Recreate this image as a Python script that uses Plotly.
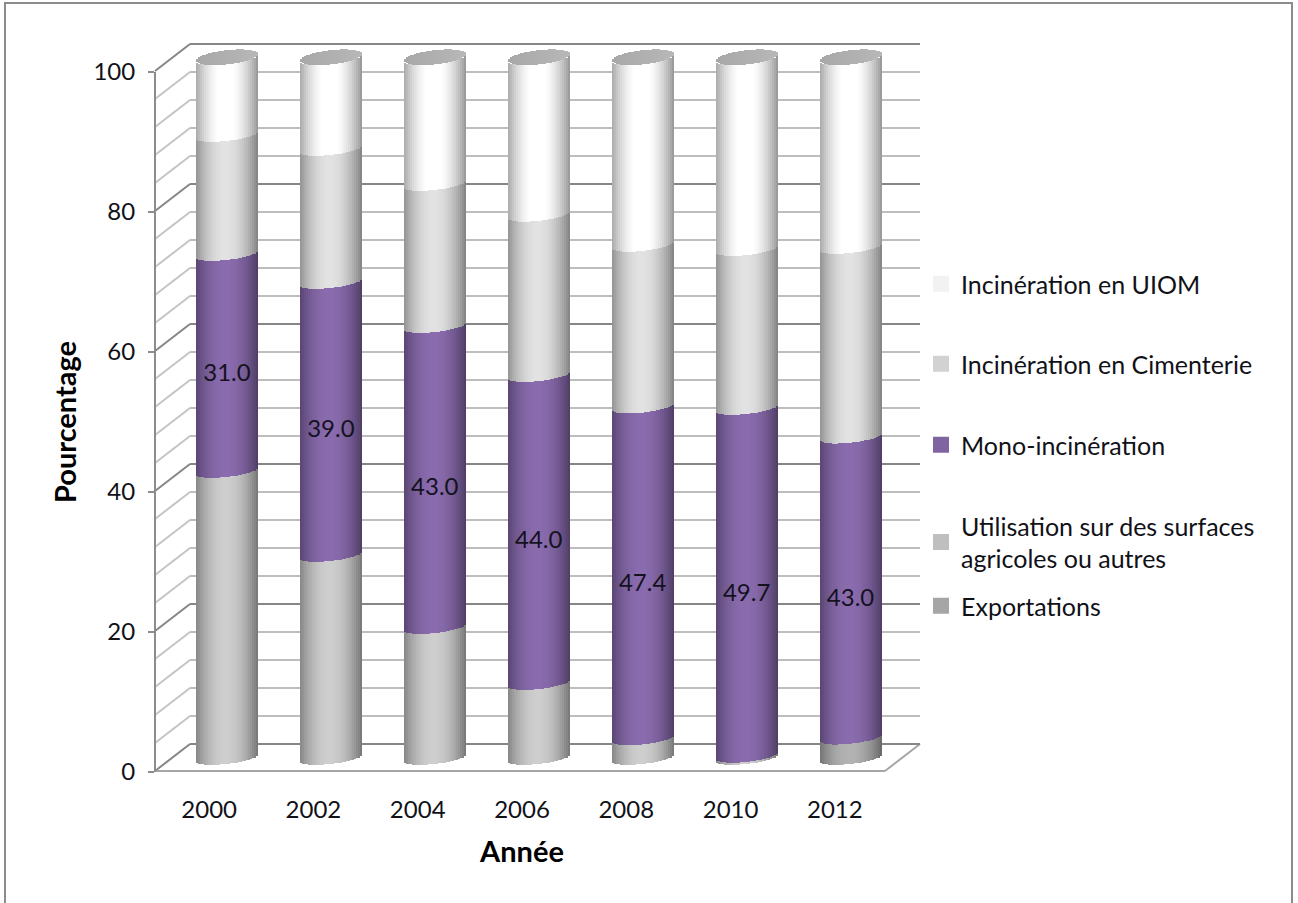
import math
import plotly.graph_objects as go

# ---------- data ----------
years = ["2000", "2002", "2004", "2006", "2008", "2010", "2012"]
exportations = [0, 0, 0, 0, 0, 0, 2.9]
utilisation = [41, 29, 18.7, 10.7, 2.8, 0.3, 0]
mono = [31.0, 39.0, 43.0, 44.0, 47.4, 49.7, 43.0]
cimenterie = [17, 19, 20.3, 22.9, 23.1, 22.7, 27.1]
uiom = [11, 13, 18, 22.4, 26.7, 27.3, 27]
mono_labels = ["31.0", "39.0", "43.0", "44.0", "47.4", "49.7", "43.0"]

series = [
    ("Exportations", exportations, (166, 166, 166), 607),
    ("Utilisation sur des surfaces<br>agricoles ou autres", utilisation, (191, 191, 191), 527),
    ("Mono-incinération", mono, (128, 100, 162), 446),
    ("Incinération en Cimenterie", cimenterie, (210, 210, 210), 365),
    ("Incinération en UIOM", uiom, (242, 242, 242), 285),
]

W, H = 1298, 903
FONT = "Lato"
TXT = "#111118"


def fx(px):
    return px / W


def fy(px):
    return 1 - px / H


# ---------- cylinder shading ----------
N = 31
BAR_W = 0.597
TILT = 0.48
SAG = 0.85


def shade(t):
    return 1.08 - 0.42 * abs(t + 0.05) ** 2


def col(rgb, t):
    return "rgb(%d,%d,%d)" % tuple(min(255, int(c * shade(t))) for c in rgb)


x_idx = list(range(len(years)))
fig = go.Figure()

# invisible carrier for the back wall grid
fig.add_trace(go.Scatter(x=[0], y=[0], xaxis="x", yaxis="y", mode="markers",
                         marker=dict(opacity=0), showlegend=False, hoverinfo="skip"))
# invisible carrier for the front axis
fig.add_trace(go.Scatter(x=years, y=[0] * len(years), xaxis="x3", yaxis="y3", mode="markers",
                         marker=dict(opacity=0), showlegend=False, hoverinfo="skip"))

cum = [0.0] * len(years)
for name, vals, rgb, _ in series:
    for k in range(N):
        t = -1 + (2 * k + 1) / N
        arc = TILT * t - SAG * math.sqrt(max(0, 1 - t * t))
        fig.add_trace(go.Bar(
            x=x_idx, y=vals, base=[c + arc for c in cum],
            offset=BAR_W / 2 * (t - 1 / N), width=BAR_W / N * 1.25,
            marker=dict(color=col(rgb, t), line=dict(width=0)),
            xaxis="x2", yaxis="y2", showlegend=False, hoverinfo="skip",
        ))
    cum = [c + v for c, v in zip(cum, vals)]

# top cap of each cylinder
for k in range(N):
    t = -1 + (2 * k + 1) / N
    h = SAG * 1.2 * math.sqrt(max(0, 1 - t * t))
    fig.add_trace(go.Bar(
        x=x_idx, y=[2 * h] * len(years), base=[c + 0.1 + TILT * t - h for c in cum],
        offset=BAR_W / 2 * (t - 1 / N), width=BAR_W / N * 1.25,
        marker=dict(color="rgb(%d,%d,%d)" % ((176 + 8 * t,) * 3), line=dict(width=0)),
        xaxis="x2", yaxis="y2", showlegend=False, hoverinfo="skip",
    ))

# data labels in the purple band
lab_y = [u + e + m / 2 - 1.8 for u, e, m in zip(utilisation, exportations, mono)]
fig.add_trace(go.Scatter(
    x=x_idx, y=lab_y, text=mono_labels, mode="text", textposition="middle center",
    textfont=dict(family=FONT, size=24, color="#15121f"),
    xaxis="x2", yaxis="y2", showlegend=False, hoverinfo="skip",
))

# legend entries, one legend box each so the uneven spacing can be kept
layout_legends = {}
for i, (name, vals, rgb, ypx) in enumerate(series):
    key = "legend" if i == 0 else f"legend{i + 1}"
    fig.add_trace(go.Scatter(x=[None], y=[None], name=name, legend=key, mode="markers",
                             marker=dict(color="rgb(%d,%d,%d)" % rgb, symbol="square", size=16,
                                         line=dict(width=0)),
                             xaxis="x2", yaxis="y2", hoverinfo="skip"))
    layout_legends[key] = dict(
        x=fx(921), xanchor="left", y=fy(ypx - 24), yanchor="top",
        bgcolor="rgba(0,0,0,0)", borderwidth=0, itemsizing="trace",
        font=dict(family=FONT, size=25, color=TXT),
    )

# side wall, floor and frame lines
BACK_DX, BACK_DY = 35, -27
shapes = []
for v in range(0, 101, 4):
    major = v % 20 == 0
    y0 = 771 - 7 * v
    shapes.append(dict(type="line", xref="paper", yref="paper", layer="below",
                       x0=fx(155), y0=fy(y0), x1=fx(155 + BACK_DX), y1=fy(y0 + BACK_DY),
                       line=dict(color="#868686" if major else "#c4c4c4", width=2)))
for a, b, c, d in [(155, 771, 885, 771), (885, 771, 920, 744)]:
    shapes.append(dict(type="line", xref="paper", yref="paper", layer="below",
                       x0=fx(a), y0=fy(b), x1=fx(c), y1=fy(d),
                       line=dict(color="#a6a6a6", width=2)))
# outer chart frame
shapes.append(dict(type="rect", xref="paper", yref="paper", layer="below",
                   x0=fx(5), y0=fy(912), x1=fx(1292), y1=fy(3),
                   line=dict(color="#8c8c8c", width=2), fillcolor="rgba(0,0,0,0)"))

fig.update_layout(
    template="none",
    width=W, height=H, margin=dict(l=0, r=0, t=0, b=0, autoexpand=False),
    paper_bgcolor="white", plot_bgcolor="rgba(0,0,0,0)",
    barmode="overlay", shapes=shapes, bargap=0,
    font=dict(family=FONT, color=TXT),
    # back wall grid
    xaxis=dict(domain=[fx(190), fx(920)], range=[0, 1], showgrid=False, zeroline=False,
               showticklabels=False, ticks="", showline=False, anchor="y", automargin=False),
    yaxis=dict(domain=[fy(747.5), fy(40.5)], range=[-0.5, 100.5], tick0=0, dtick=20, showgrid=True,
               gridcolor="#868686", gridwidth=2, zeroline=False, showticklabels=False,
               ticks="", showline=False, anchor="x", automargin=False,
               minor=dict(tick0=0, dtick=4, showgrid=True, gridcolor="#bdbdbd", gridwidth=2)),
    # cylinders
    xaxis2=dict(domain=[fx(175), fx(902.5)], range=[-0.5, 6.5], anchor="y2", automargin=False,
                showgrid=False, zeroline=False, showticklabels=False, ticks="", showline=False),
    yaxis2=dict(domain=[fy(779), fy(23)], range=[-3, 105], anchor="x2", automargin=False,
                showgrid=False, zeroline=False, showticklabels=False, ticks="", showline=False),
    # front axes with labels
    xaxis3=dict(domain=[fx(157), fx(887)], range=[-0.5, 6.5], type="category", anchor="y3",
                showgrid=False, zeroline=False, showline=False, ticks="", automargin=False,
                categoryorder="array", categoryarray=years,
                tickfont=dict(family=FONT, size=24, color=TXT), ticklabelstandoff=21,
                title=dict(text="<b>Année</b>", font=dict(family=FONT, size=29, color="#000"),
                           standoff=19)),
    yaxis3=dict(domain=[fy(772), fy(72)], range=[0, 100], dtick=20, anchor="free",
                position=fx(155), showgrid=False, zeroline=False, showline=True, automargin=False,
                linecolor="#8c8c8c", linewidth=2, ticks="outside", ticklen=6,
                tickcolor="#8c8c8c", tickwidth=2,
                tickfont=dict(family=FONT, size=24, color=TXT), ticklabelstandoff=8,
                title=dict(text="<b>Pourcentage</b>", font=dict(family=FONT, size=29, color="#000"),
                           standoff=7)),
    **layout_legends,
)

fig.write_html("out.html", config={"displayModeBar": False},
               post_script="document.body.style.margin='0';document.body.style.overflow='hidden';")
